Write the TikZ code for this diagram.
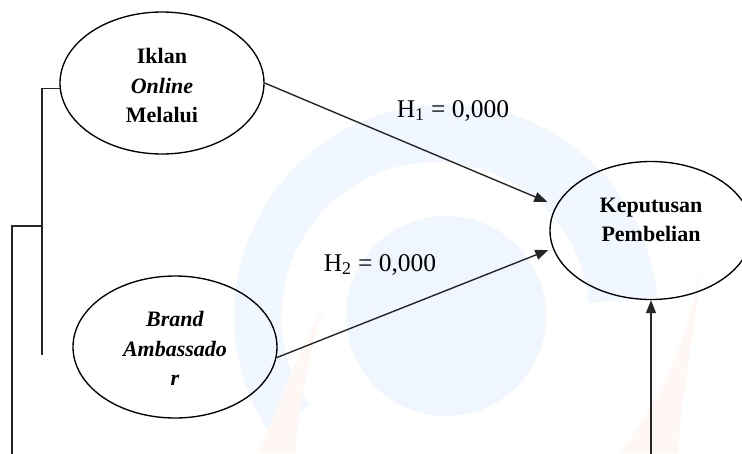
\documentclass[tikz,border=0pt]{standalone}
\usepackage{fontspec}
\setmainfont{Liberation Serif}
\usetikzlibrary{arrows.meta,shapes.geometric}

\definecolor{wmdisk}{RGB}{240,246,254}
\definecolor{wmring}{RGB}{241,247,254}
\definecolor{wmorange}{RGB}{255,247,244}

\begin{document}
\begin{tikzpicture}[x=1pt,y=-1pt,
  construct/.style={ellipse, draw=black, line width=1.35pt,
    minimum width=204pt, minimum height=142pt, inner sep=0pt},
  vartext/.style={align=center, inner sep=0pt,
    font=\bfseries\fontsize{22}{29.5}\selectfont},
  pathlabel/.style={anchor=base, inner sep=0pt,
    font=\fontsize{25.5}{29}\selectfont},
  link/.style={line width=1.4pt, draw=black!85},
  effect/.style={link, -{Triangle[length=13pt,width=10pt]}},
]
\useasboundingbox (0,0) rectangle (742,453);

% faint background emblem
\begin{scope}
  \clip (0,0) rectangle (742,453);
  \fill[wmring] (446,316) ++(-5:212) arc[start angle=-5, end angle=-215, radius=212]
    -- ++(37,-33) arc[start angle=-215, end angle=-5, radius=154] -- cycle;
  \fill[wmdisk] (446,316) circle[radius=100];
  \fill[wmorange] (324,306) .. controls (300,350) and (280,400) .. (258,453)
    -- (295,453) .. controls (300,400) and (310,350) .. (324,306) -- cycle;
  \fill[wmorange] (700,264) .. controls (695,340) and (680,400) .. (678,453)
    -- (620,453) .. controls (660,400) and (690,340) .. (700,264) -- cycle;
\end{scope}

% constructs
\node[construct] (iklan) at (162,83) {};
\node[vartext] (iklantext) at ([yshift=-2.5pt]iklan.center)
  {Iklan\\\textit{Online}\\Melalui};

\node[construct] (brand) at (175,347) {};
\node[vartext] (brandtext) at ([yshift=-1.5pt]brand.center)
  {\textit{Brand}\\\textit{Ambassado}\\\textit{r}};

\node[construct, minimum width=202pt, minimum height=138pt] (keputusan) at (651,230.5) {};
\node[vartext] (keputusantext) at ([yshift=10.75pt]keputusan.center)
  {Keputusan\\Pembelian};

% hypothesis labels
\node[pathlabel] (h1) at (453,117) {H\textsubscript{1} = 0,000};
\node[pathlabel] (h2) at (380,271) {H\textsubscript{2} = 0,000};

% effects
\draw[effect] (iklan.east) -- ([xshift=-2pt,yshift=28.5pt]keputusan.west);
\draw[effect] (brand.-6) -- ([xshift=-1pt,yshift=-19.5pt]keputusan.west);
\coordinate (lower) at (651,460);
\draw[effect] (lower) -- (keputusan.south);

% bracket lines on the left
\coordinate (leftend) at (42,355);
\draw[link] (iklan.183) -| (leftend);
\coordinate (joint) at (42,226);
\coordinate (rail) at (12,460);
\draw[link] (rail) |- (joint);
\end{tikzpicture}
\end{document}
